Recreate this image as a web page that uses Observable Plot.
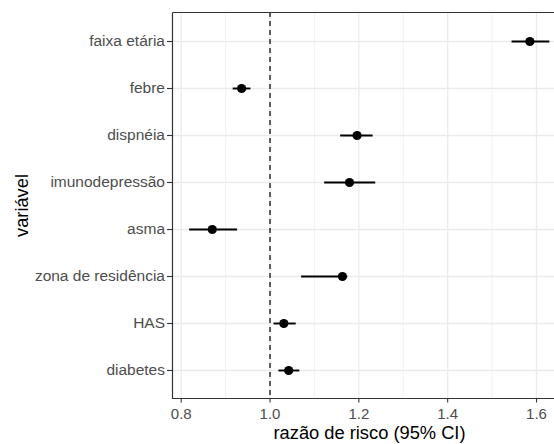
<!DOCTYPE html>
<html>
<head>
<meta charset="utf-8">
<script src="https://cdn.jsdelivr.net/npm/d3@7"></script>
<script src="https://cdn.jsdelivr.net/npm/@observablehq/plot@0.6"></script>
<style>
  html, body { margin: 0; padding: 0; background: #fff; overflow: hidden; }
</style>
</head>
<body>
<div id="chart"></div>
<script>
const variaveis = ["faixa etária", "febre", "dispnéia", "imunodepressão", "asma", "zona de residência", "HAS", "diabetes"];
const rr    = [1.585, 0.936, 1.196, 1.179, 0.870, 1.163, 1.031, 1.042];
const lower = [1.545, 0.917, 1.159, 1.123, 0.819, 1.071, 1.009, 1.020];
const upper = [1.630, 0.957, 1.232, 1.238, 0.927, 1.175, 1.059, 1.067];
const majorTicks = [0.8, 1.0, 1.2, 1.4, 1.6];
const minorTicks = [0.9, 1.1, 1.3, 1.5];
const refValue = [1];
const xTitle = "razão de risco (95% CI)";
const yTitle = "variável";

const data = variaveis.map((v, i) => ({variavel: v, rr: rr[i], lo: lower[i], hi: upper[i]}));

const W = 554, H = 444, mL = 172, mR = 0, mT = 12, mB = 46;
const fw = W - mL - mR, fh = H - mT - mB;

const chart = Plot.plot({
  width: W,
  height: H,
  marginLeft: mL,
  marginRight: mR,
  marginTop: mT,
  marginBottom: mB,
  style: {fontFamily: "'Liberation Sans', Arial, sans-serif", background: "#fff"},
  x: {domain: [0.7804, 1.6405]},
  y: {type: "point", domain: variaveis, padding: 0.6},
  marks: [
    Plot.ruleX(minorTicks, {stroke: "#EBEBEB", strokeWidth: 0.7}),
    Plot.ruleX(majorTicks, {stroke: "#EBEBEB", strokeWidth: 1.3}),
    Plot.ruleY(variaveis, {stroke: "#EBEBEB", strokeWidth: 1.3}),
    Plot.ruleX(refValue, {stroke: "#222", strokeWidth: 1.4, strokeDasharray: "5,4"}),
    Plot.ruleY(data, {y: "variavel", x1: "lo", x2: "hi", stroke: "black", strokeWidth: 1.9}),
    Plot.dot(data, {y: "variavel", x: "rr", r: 4.6, fill: "black", stroke: "none"}),
    // panel border: top, (no right – cropped in reference), bottom, left
    Plot.frame({stroke: "#333", strokeWidth: 1.2, strokeDasharray: `${fw},${fh},${fw + fh},0`}),
    Plot.axisX(majorTicks, {tickSize: 4.5, tickPadding: 5, fontSize: 15, fill: "#4D4D4D", stroke: "#333", strokeWidth: 1.1, label: null, tickFormat: d3.format(".1f")}),
    Plot.axisY({tickSize: 5, tickPadding: 2.5, fontSize: 15.5, fill: "#4D4D4D", stroke: "#333", strokeWidth: 1.1, label: null}),
    Plot.text([xTitle], {frameAnchor: "bottom", dx: 6, dy: 35, lineAnchor: "middle", textAnchor: "middle", fontSize: 18.3, fill: "black"}),
    Plot.text([yTitle], {frameAnchor: "left", dx: -150, rotate: -90, lineAnchor: "middle", textAnchor: "middle", fontSize: 18.3, fill: "black"})
  ]
});
document.getElementById("chart").append(chart);
</script>
</body>
</html>
